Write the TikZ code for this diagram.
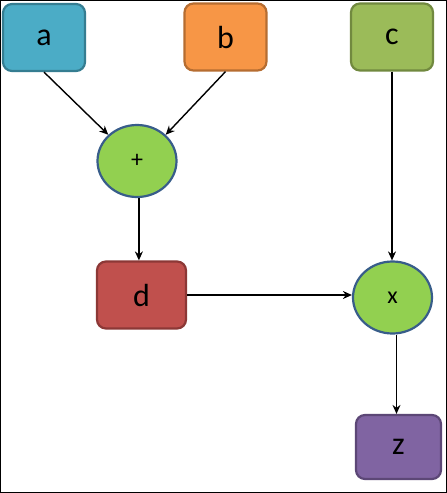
\documentclass[tikz,border=0pt]{standalone}
\usepackage{fontspec}
\setmainfont{Carlito}
\usepackage{tikz}
\usetikzlibrary{calc}
\usepackage{xcolor}
\definecolor{aFill}{HTML}{4BACC6}
\definecolor{aLine}{HTML}{357D91}
\definecolor{bFill}{HTML}{F79646}
\definecolor{bLine}{HTML}{B66D31}
\definecolor{cFill}{HTML}{9BBB59}
\definecolor{cLine}{HTML}{71893F}
\definecolor{dFill}{HTML}{C0504D}
\definecolor{dLine}{HTML}{8C3836}
\definecolor{zFill}{HTML}{8064A2}
\definecolor{zLine}{HTML}{5C4776}
\definecolor{opFill}{HTML}{92D050}
\definecolor{opLine}{HTML}{385D8A}
\tikzset{
	var/.style n args={2}{
		draw=#2, fill=#1, rounded corners=9pt,
		line width = 2.2pt,
		inner sep=0pt, minimum width=82pt, minimum height=67pt,
		font=\fontsize{32}{36}\selectfont
	},
	op/.style={
		draw=opLine, fill=opFill, ellipse,
		line width = 2.2pt,
		inner sep=0pt, minimum width=79pt, minimum height=72pt,
		font=\fontsize{24}{28}\selectfont
	},
	edge/.style={
		line width = 1.4pt, -{Stealth[length=9pt,width=8pt]}
	}
}
\usetikzlibrary{shapes.geometric, arrows.meta}

\begin{document}
\begin{tikzpicture}[x=1pt, y=-1pt]
\draw[line width=1pt, fill=white] (0.5, 0.5) rectangle (446.5, 492.5);
\node[var={aFill}{aLine}] (a) at ( 44, 37.5 ) {a};
\node[var={bFill}{bLine}] (b) at ( 225.5, 37 ) {b};
\node[var={cFill}{cLine}] (c) at ( 392, 37 ) {c};
\node[op] (plus) at ( 137, 161 ) {+};
\node[var={dFill}{dLine}, minimum width=89pt] (d) at ( 141.5, 295 ) {d};
\node[op] (times) at ( 392.5, 297.5 ) {x};
\node[var={zFill}{zLine}, minimum width=85pt, minimum height=64pt] (z) at ( 398.5, 447 ) {z};
\draw[edge] (a.south) -- (plus.north west);
\draw[edge] (b.south) -- (plus.north east);
\draw[edge] (c.south) -- (times.north -| c.south);
\draw[edge] (plus.south -| d.north west) ++(43,0) coordinate (ps) -- (ps |- d.north);
\draw[edge] (d.east) -- (d.east -| times.west);
\draw[edge] (times.south) ++(4,0) coordinate (xs) -- (xs |- z.north);
\end{tikzpicture}
\end{document}
